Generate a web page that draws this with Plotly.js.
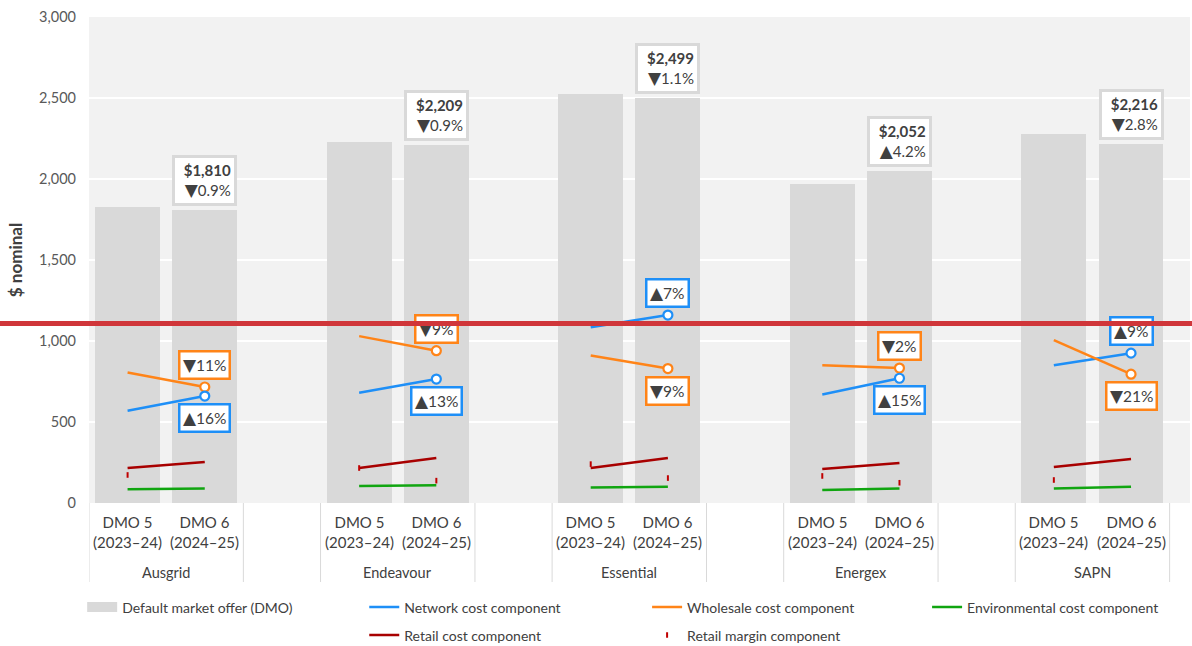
<!DOCTYPE html>
<html><head><meta charset="utf-8">
<script src="https://cdn.plot.ly/plotly-3.0.1.min.js"></script>
<style>html,body{margin:0;padding:0;background:#fff}#chart{width:1192px;height:646px}</style>
</head><body><div id="chart"></div>
<script>
// ---- data ----
const groups = ['Ausgrid', 'Endeavour', 'Essential', 'Energex', 'SAPN'];
const periodLabels = ['DMO 5<br>(2023–24)', 'DMO 6<br>(2024–25)'];
const dmo5Total = [1826, 2229, 2527, 1969, 2280];
const dmo6Total = [1810, 2209, 2499, 2052, 2216];
const totalChangePct = [-0.9, -0.9, -1.1, 4.2, -2.8];
const network5 = [570, 680, 1085, 670, 850];
const network6 = [660, 765, 1160, 770, 925];
const networkChangePct = [16, 13, 7, 15, 9];
const wholesale5 = [805, 1030, 910, 850, 1005];
const wholesale6 = [716, 940, 830, 833, 795];
const wholesaleChangePct = [-11, -9, -9, -2, -21];
const environmental5 = [85, 105, 95, 80, 90];
const environmental6 = [90, 110, 100, 90, 100];
const retailCost5 = [216, 216, 216, 210, 222];
const retailCost6 = [253, 278, 278, 247, 272];
const retailMargin5 = [173, 216, 240, 167, 142];
const retailMargin6 = [null, 138, 154, 125, null];
const yTicks = [0, 500, 1000, 1500, 2000, 2500, 3000];

// ---- styling ----
const C = {
  bar: '#d9d9d9', network: '#1e8ff7', wholesale: '#ff8418', env: '#10a510',
  retail: '#a80000', margin: '#c00000', text: '#404040', axis: '#595959'
};
const FONT = 'Lato, "Liberation Sans", "DejaVu Sans", sans-serif';
const ARROWFONT = "font-family:'DejaVu Sans'";

const slot = (g, p) => 3 * g + p;
const xPairs = [], barX = [], barY = [];
groups.forEach((g, i) => {
  xPairs.push(slot(i, 0), slot(i, 1), null);
  barX.push(slot(i, 0), slot(i, 1));
  barY.push(dmo5Total[i], dmo6Total[i]);
});
const pairs = (a, b) => { const out = []; a.forEach((v, i) => out.push(v, b[i], null)); return out; };
const dmo6X = groups.map((g, i) => slot(i, 1));

const traces = [
  { type: 'bar', x: barX, y: barY, width: 0.84, marker: { color: C.bar }, name: 'Default market offer (DMO)', showlegend: false },
  // legend swatch for the DMO bars (wide grey band as in the source legend)
  { type: 'scatter', mode: 'lines', x: [null], y: [null], line: { color: C.bar, width: 12 }, name: 'Default market offer (DMO)', legend: 'legend' },
  { type: 'scatter', mode: 'lines', x: xPairs, y: pairs(network5, network6), line: { color: C.network, width: 2.5 }, name: 'Network cost component', legend: 'legend2' },
  { type: 'scatter', mode: 'lines', x: xPairs, y: pairs(wholesale5, wholesale6), line: { color: C.wholesale, width: 2.5 }, name: 'Wholesale cost component', legend: 'legend3' },
  { type: 'scatter', mode: 'lines', x: xPairs, y: pairs(environmental5, environmental6), line: { color: C.env, width: 2.5 }, name: 'Environmental cost component', legend: 'legend4' },
  { type: 'scatter', mode: 'lines', x: xPairs, y: pairs(retailCost5, retailCost6), line: { color: C.retail, width: 2.5 }, name: 'Retail cost component', legend: 'legend5' },
  { type: 'scatter', mode: 'markers', x: xPairs, y: pairs(retailMargin5, retailMargin6), marker: { symbol: 'line-ns', size: 4, line: { color: C.margin, width: 2 } }, name: 'Retail margin component', legend: 'legend6' },
  { type: 'scatter', mode: 'markers', x: dmo6X, y: wholesale6, marker: { symbol: 'circle', size: 9, color: '#fff', line: { color: C.wholesale, width: 2.2 } }, showlegend: false },
  { type: 'scatter', mode: 'markers', x: dmo6X, y: network6, marker: { symbol: 'circle', size: 9, color: '#fff', line: { color: C.network, width: 2.2 } }, showlegend: false }
];

// ---- annotations ----
const arrow = (v, size) => '<span style="' + ARROWFONT + ';font-size:' + size + 'px">' + (v < 0 ? '▼' : '▲') + '</span>';
const annotations = [];
groups.forEach((g, i) => {
  annotations.push({
    x: slot(i, 1), y: dmo6Total[i], xref: 'x', yref: 'y', yanchor: 'bottom', yshift: 4,
    showarrow: false, align: 'right', width: 53,
    text: '<b>$' + dmo6Total[i].toLocaleString('en-US') + '</b><br>' + arrow(totalChangePct[i], 17) + Math.abs(totalChangePct[i]) + '%',
    bgcolor: '#fff', bordercolor: '#d9d9d9', borderwidth: 3, borderpad: 3,
    font: { family: FONT, size: 15, color: C.text }
  });
  const netAbove = network6[i] > wholesale6[i];
  [[network6[i], networkChangePct[i], C.network, netAbove], [wholesale6[i], wholesaleChangePct[i], C.wholesale, !netAbove]].forEach(([v, pct, col, above]) => {
    annotations.push({
      x: slot(i, 1), y: v, xref: 'x', yref: 'y', yanchor: 'middle', yshift: above ? 22 : -22,
      showarrow: false, text: arrow(pct, 17) + Math.abs(pct) + '%', bgcolor: '#fff', bordercolor: col, borderwidth: 2.5, borderpad: 2.5,
      font: { family: FONT, size: 15.5, color: C.text }
    });
  });
  periodLabels.forEach((lab, p) => annotations.push({
    x: slot(i, p), y: -0.0165, xref: 'x', yref: 'paper', yanchor: 'top', showarrow: false,
    text: lab, font: { family: FONT, size: 15, color: C.text }
  }));
  annotations.push({
    x: slot(i, 0.5), y: -0.142, xref: 'x', yref: 'paper', yanchor: 'middle', showarrow: false,
    text: g, font: { family: FONT, size: 14.5, color: C.text }
  });
});
// overlay red rule across the whole picture (drawn last, on top)
annotations.push({
  x: 0.5, y: 0.37037, xref: 'paper', yref: 'paper', xanchor: 'center', yanchor: 'middle',
  showarrow: false, text: '&nbsp;', width: 1400, height: 5, borderpad: 0, borderwidth: 0,
  bgcolor: '#d0363a', font: { size: 1 }
});

// ---- category separators ----
const shapes = [];
groups.forEach((g, i) => {
  [slot(i, 0) - 0.5, slot(i, 1) + 0.5].forEach(xb => shapes.push({
    type: 'line', xref: 'x', yref: 'paper', x0: xb, x1: xb, y0: 0, y1: -0.1626,
    line: { color: '#d9d9d9', width: 1 }
  }));
});

const legendBase = {
  orientation: 'v', xanchor: 'left', yanchor: 'top',
  font: { family: FONT, size: 14, color: C.text }, bgcolor: 'rgba(0,0,0,0)', borderwidth: 0
};
const L = (x, y) => Object.assign({}, legendBase, { x: x, y: y });

const layout = {
  width: 1192, height: 646,
  margin: { l: 88.8, r: 2, t: 17, b: 143, autoexpand: false },
  paper_bgcolor: '#fff', plot_bgcolor: '#f2f2f2',
  font: { family: FONT, size: 14, color: C.text },
  bargap: 0,
  showlegend: true,
  xaxis: { range: [-0.5, 13.764], showticklabels: false, showgrid: false, zeroline: false, ticks: '', fixedrange: true },
  yaxis: {
    range: [0, 3000], tickvals: yTicks, ticktext: yTicks.map(v => v.toLocaleString('en-US')),
    showgrid: true, gridcolor: '#ffffff', gridwidth: 1.5, zeroline: false, ticks: '',
    tickfont: { family: FONT, size: 14.5, color: C.axis }, ticklabelstandoff: 12,
    title: { text: '<b>$ nominal</b>', standoff: 12, font: { family: FONT, size: 17, color: C.text } }
  },
  legend: L(-0.0062, -0.182),
  legend2: L(0.25, -0.182),
  legend3: L(0.5069, -0.182),
  legend4: L(0.7612, -0.182),
  legend5: L(0.25, -0.2396),
  legend6: L(0.5069, -0.2396),
  annotations: annotations,
  shapes: shapes
};

Plotly.newPlot('chart', traces, layout, { displayModeBar: false, staticPlot: true });
</script>
</body></html>
